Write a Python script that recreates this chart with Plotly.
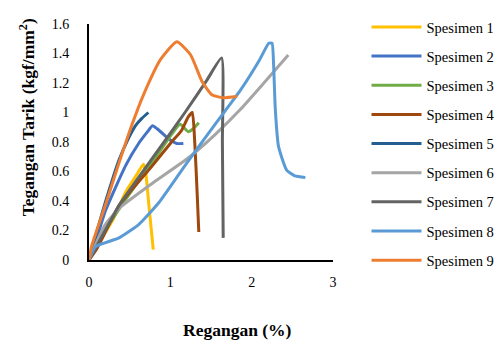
import plotly.graph_objects as go

names = ["Spesimen 1", "Spesimen 2", "Spesimen 3", "Spesimen 4", "Spesimen 5",
         "Spesimen 6", "Spesimen 7", "Spesimen 8", "Spesimen 9"]
colors = ["#FFC000", "#4472C4", "#70AD47", "#9E480E", "#255E91",
          "#A5A5A5", "#636363", "#5B9BD5", "#ED7D31"]

s1_x = [0, 0.15, 0.30, 0.45, 0.60, 0.67, 0.70, 0.74, 0.79]
s1_y = [0, 0.14, 0.28, 0.46, 0.59, 0.65, 0.58, 0.35, 0.07]

s2_x = [0, 0.08, 0.20, 0.45, 0.61, 0.72, 0.78, 0.86, 0.98, 1.08, 1.16]
s2_y = [0, 0.12, 0.33, 0.64, 0.79, 0.87, 0.91, 0.88, 0.82, 0.79, 0.79]

s3_x = [0, 0.20, 0.50, 0.80, 1.00, 1.12, 1.22, 1.28, 1.35]
s3_y = [0, 0.20, 0.45, 0.68, 0.84, 0.92, 0.87, 0.89, 0.93]

s4_x = [0, 0.10, 0.37, 0.78, 1.00, 1.14, 1.22, 1.27, 1.30, 1.33, 1.35]
s4_y = [0, 0.08, 0.37, 0.64, 0.79, 0.88, 0.97, 1.00, 0.80, 0.45, 0.19]

s5_x = [0, 0.08, 0.20, 0.37, 0.49, 0.57, 0.65, 0.73]
s5_y = [0, 0.16, 0.39, 0.68, 0.83, 0.91, 0.96, 1.00]

s6_x = [0, 0.10, 0.20, 0.37, 0.78, 1.24, 1.55, 1.86, 2.15, 2.45]
s6_y = [0, 0.13, 0.24, 0.35, 0.52, 0.70, 0.85, 1.02, 1.20, 1.39]

s7_x = [0, 0.10, 0.37, 0.78, 1.18, 1.45, 1.63, 1.64, 1.65]
s7_y = [0, 0.10, 0.37, 0.69, 1.00, 1.22, 1.37, 0.80, 0.15]

s8_x = [0, 0.08, 0.37, 0.61, 0.86, 1.18, 1.55, 1.86, 2.10, 2.21, 2.25, 2.27, 2.29,
        2.33, 2.43, 2.53, 2.66]
s8_y = [0, 0.09, 0.15, 0.24, 0.39, 0.64, 0.92, 1.15, 1.36, 1.47, 1.47, 1.32, 1.03,
        0.77, 0.61, 0.57, 0.56]

s9_x = [0, 0.03, 0.20, 0.37, 0.53, 0.67, 0.88, 1.08, 1.25, 1.39, 1.51, 1.65, 1.82]
s9_y = [0, 0.09, 0.37, 0.66, 0.92, 1.12, 1.36, 1.48, 1.39, 1.21, 1.12, 1.10, 1.11]

xs = [s1_x, s2_x, s3_x, s4_x, s5_x, s6_x, s7_x, s8_x, s9_x]
ys = [s1_y, s2_y, s3_y, s4_y, s5_y, s6_y, s7_y, s8_y, s9_y]

x_ticks = [0, 1, 2, 3]
y_ticks = [0, 0.2, 0.4, 0.6, 0.8, 1, 1.2, 1.4, 1.6]

FONT = "Liberation Serif, Times New Roman, serif"

# The page body has an 8px default margin: shift everything up/left by 8px.
W, H = 495, 336
L, R, T, B = 81, 170, 9, 84
PW, PH = W - L - R, H - T - B

fig = go.Figure()
for i in range(9):
    fig.add_trace(go.Scatter(
        x=xs[i], y=ys[i], mode="lines", name=names[i],
        line=dict(color=colors[i], width=3, shape="spline", smoothing=0.5),
        legendgroup=names[i],
    ))

fig.update_layout(
    width=W, height=H,
    margin=dict(l=L, r=R, t=T, b=B),
    paper_bgcolor="white", plot_bgcolor="white",
    font=dict(family=FONT, size=14, color="black"),
    showlegend=True,
    legend=dict(xref="container", yref="container", x=358.5 / W, xanchor="left",
                y=1 - 3 / H, yanchor="top", maxheight=1,
                font=dict(family=FONT, size=14.5, color="black"),
                tracegroupgap=7.3, itemwidth=50, traceorder="grouped",
                bgcolor="rgba(0,0,0,0)"),
    xaxis=dict(range=[0, 3], tickvals=x_ticks, showgrid=False, zeroline=False,
               showline=True, linecolor="black", linewidth=2, ticks="",
               ticklabelstandoff=8, tickfont=dict(family=FONT, size=14)),
    yaxis=dict(range=[0, 1.6], tickvals=y_ticks, showgrid=False, zeroline=False,
               showline=True, linecolor="black", linewidth=2, ticks="",
               ticklabelstandoff=15, tickfont=dict(family=FONT, size=14)),
    annotations=[
        dict(text="<b>Regangan (%)</b>", xref="paper", yref="paper",
             x=(229 - L) / PW, y=-(324 - (T + PH)) / PH, xanchor="center", yanchor="middle",
             showarrow=False, font=dict(family=FONT, size=17.5)),
        dict(text="<b>Tegangan Tarik (kgf/mm<sup>2</sup>)</b>", xref="paper", yref="paper",
             x=(19 - L) / PW, y=((T + PH) - 105) / PH, xanchor="center", yanchor="middle",
             textangle=-90, showarrow=False, font=dict(family=FONT, size=17.5)),
    ],
)

fig.write_html("out.html")
